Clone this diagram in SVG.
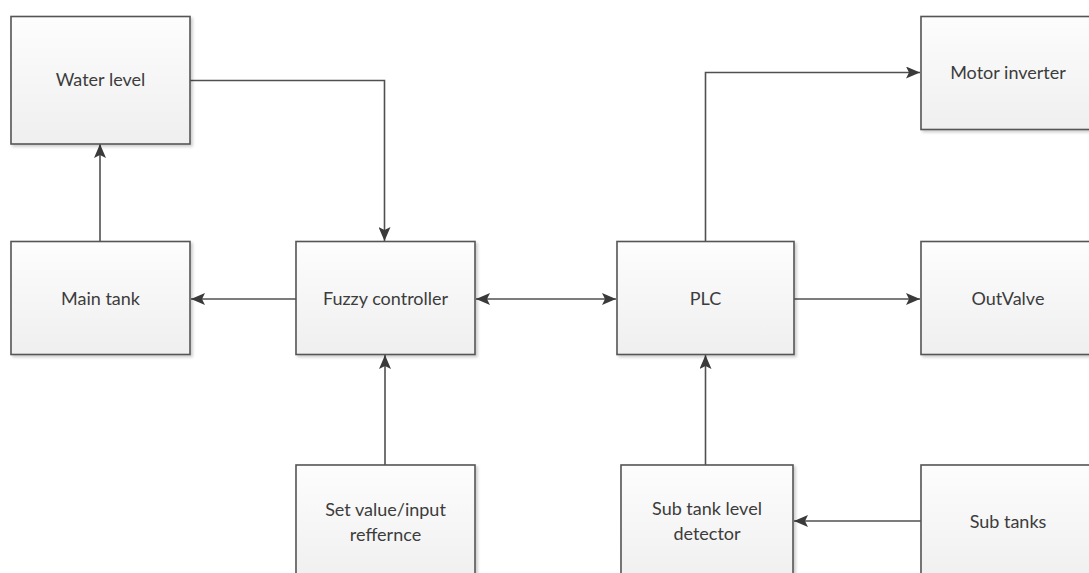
<svg xmlns="http://www.w3.org/2000/svg" width="1089" height="573" viewBox="0 0 1089 573">
<defs>
<linearGradient id="g" x1="0" y1="0" x2="0" y2="1">
<stop offset="0" stop-color="#fdfdfd"/>
<stop offset="1" stop-color="#efefef"/>
</linearGradient>
<filter id="sh" x="-5%" y="-5%" width="115%" height="115%">
<feGaussianBlur in="SourceAlpha" stdDeviation="1.5"/>
<feOffset dx="2" dy="2" result="o"/>
<feComponentTransfer><feFuncA type="linear" slope="0.2"/></feComponentTransfer>
<feMerge><feMergeNode/><feMergeNode in="SourceGraphic"/></feMerge>
</filter>
<marker id="ah" viewBox="0 0 14 12" refX="14" refY="6" markerWidth="14" markerHeight="12" markerUnits="userSpaceOnUse" orient="auto-start-reverse">
<path d="M0,0 L14,6 L0,12 L3,6 Z" fill="#3a3a3a"/>
</marker>
</defs>
<style>
.box{fill:url(#g);stroke:#555;stroke-width:1.6;filter:url(#sh)}
.t{font-family:Lato,"Open Sans",sans-serif;font-size:18px;fill:#3c3c3c;text-anchor:middle}
.c{fill:none;stroke:#505050;stroke-width:1.6}
</style>
<g id="connectors">
<path class="c" d="M190,80.5 H384.5 V241" marker-end="url(#ah)"/>
<path class="c" d="M100,241.5 V144" marker-end="url(#ah)"/>
<path class="c" d="M296,299 H191" marker-end="url(#ah)"/>
<path class="c" d="M476,299 H616" marker-start="url(#ah)" marker-end="url(#ah)"/>
<path class="c" d="M385,465 V355" marker-end="url(#ah)"/>
<path class="c" d="M705.5,241.5 V72.5 H920" marker-end="url(#ah)"/>
<path class="c" d="M794,299 H920" marker-end="url(#ah)"/>
<path class="c" d="M705.5,465 V355" marker-end="url(#ah)"/>
<path class="c" d="M921,521 H794" marker-end="url(#ah)"/>
</g>
<g id="water-level"><rect class="box" x="11" y="16.5" width="179" height="127.5"/><text class="t" x="100.5" y="86">Water level</text></g>
<g id="main-tank"><rect class="box" x="11" y="241.5" width="179" height="113"/><text class="t" x="100.5" y="305">Main tank</text></g>
<g id="fuzzy-controller"><rect class="box" x="296" y="241.5" width="179" height="113"/><text class="t" x="385.5" y="305">Fuzzy controller</text></g>
<g id="plc"><rect class="box" x="617" y="241.5" width="177" height="113"/><text class="t" x="705.5" y="305">PLC</text></g>
<g id="motor-inverter"><rect class="box" x="921" y="16.5" width="174" height="113"/><text class="t" x="1008" y="79">Motor inverter</text></g>
<g id="outvalve"><rect class="box" x="921" y="241.5" width="174" height="113"/><text class="t" x="1008" y="305">OutValve</text></g>
<g id="set-value"><rect class="box" x="296" y="465" width="179" height="120"/><text class="t" x="385.5" y="516">Set value/input</text><text class="t" x="385.5" y="541">reffernce</text></g>
<g id="sub-tank-level-detector"><rect class="box" x="621" y="465" width="172" height="120"/><text class="t" x="707" y="515">Sub tank level</text><text class="t" x="707" y="540">detector</text></g>
<g id="sub-tanks"><rect class="box" x="921" y="465" width="174" height="120"/><text class="t" x="1008" y="528">Sub tanks</text></g>
</svg>
